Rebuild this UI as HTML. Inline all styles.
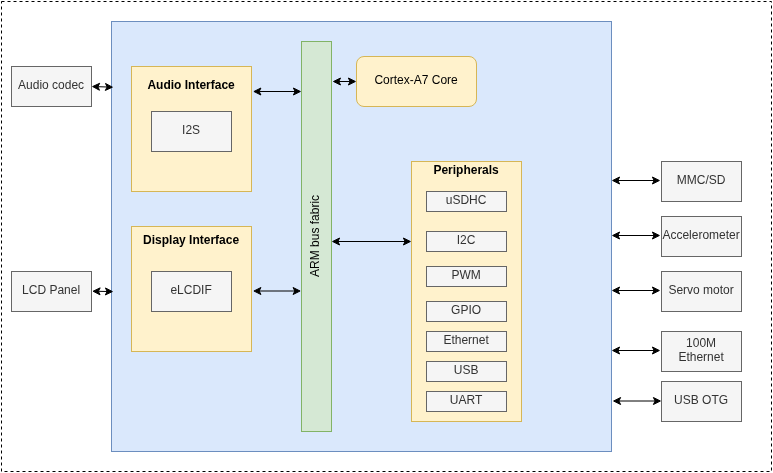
<!DOCTYPE html>
<html><head><meta charset="utf-8"><style>
html,body{margin:0;padding:0;background:#fff;width:773px;height:473px;overflow:hidden}
svg{display:block;will-change:transform;font-family:"Liberation Sans",sans-serif;font-size:12px}
text{text-anchor:middle}
</style></head><body>
<svg width="773" height="473" viewBox="0 0 773 473">
<rect x="1.5" y="1.5" width="770" height="470" fill="none" stroke="#000" stroke-dasharray="3 3"/>
<rect x="111.5" y="21.5" width="500" height="430" rx="0" fill="#dae8fc" stroke="#6c8ebf" />
<rect x="11.5" y="66.5" width="80" height="40" rx="0" fill="#f5f5f5" stroke="#666666" />
<text x="51.1" y="89" fill="#333333" >Audio codec</text>
<rect x="11.5" y="271.5" width="80" height="40" rx="0" fill="#f5f5f5" stroke="#666666" />
<text x="51.1" y="294" fill="#333333" >LCD Panel</text>
<rect x="131.5" y="66.5" width="120" height="125" rx="0" fill="#fff2cc" stroke="#d6b656" />
<text x="191.1" y="89" fill="#000" font-weight="bold" >Audio Interface</text>
<rect x="151.5" y="111.5" width="80" height="40" rx="0" fill="#f5f5f5" stroke="#666666" />
<text x="191.1" y="134" fill="#333333" >I2S</text>
<rect x="131.5" y="226.5" width="120" height="125" rx="0" fill="#fff2cc" stroke="#d6b656" />
<text x="191.1" y="244" fill="#000" font-weight="bold" >Display Interface</text>
<rect x="151.5" y="271.5" width="80" height="40" rx="0" fill="#f5f5f5" stroke="#666666" />
<text x="191.1" y="294" fill="#333333" >eLCDIF</text>
<rect x="301.5" y="41.5" width="30" height="390" rx="0" fill="#d5e8d4" stroke="#82b366" />
<text x="0" y="4" fill="#000" transform="translate(314.6 235.9) rotate(-90)">ARM bus fabric</text>
<rect x="356.5" y="56.5" width="120" height="50" rx="7.5" fill="#fff2cc" stroke="#d6b656" />
<text x="416.1" y="84" fill="#000" >Cortex-A7 Core</text>
<rect x="411.5" y="161.5" width="110" height="260" rx="0" fill="#fff2cc" stroke="#d6b656" />
<text x="466.1" y="174" fill="#000" font-weight="bold" >Peripherals</text>
<rect x="426.5" y="191.5" width="80" height="20" rx="0" fill="#f5f5f5" stroke="#666666" />
<text x="466.1" y="204.0" fill="#333333" >uSDHC</text>
<rect x="426.5" y="231.5" width="80" height="20" rx="0" fill="#f5f5f5" stroke="#666666" />
<text x="466.1" y="244.0" fill="#333333" >I2C</text>
<rect x="426.5" y="266.5" width="80" height="20" rx="0" fill="#f5f5f5" stroke="#666666" />
<text x="466.1" y="279.0" fill="#333333" >PWM</text>
<rect x="426.5" y="301.5" width="80" height="20" rx="0" fill="#f5f5f5" stroke="#666666" />
<text x="466.1" y="314.0" fill="#333333" >GPIO</text>
<rect x="426.5" y="331.5" width="80" height="20" rx="0" fill="#f5f5f5" stroke="#666666" />
<text x="466.1" y="344.0" fill="#333333" >Ethernet</text>
<rect x="426.5" y="361.5" width="80" height="20" rx="0" fill="#f5f5f5" stroke="#666666" />
<text x="466.1" y="374.0" fill="#333333" >USB</text>
<rect x="426.5" y="391.5" width="80" height="20" rx="0" fill="#f5f5f5" stroke="#666666" />
<text x="466.1" y="404.0" fill="#333333" >UART</text>
<rect x="661.5" y="161.5" width="80" height="40" rx="0" fill="#f5f5f5" stroke="#666666" />
<text x="701.1" y="184.0" fill="#333333" >MMC/SD</text>
<rect x="661.5" y="216.5" width="80" height="40" rx="0" fill="#f5f5f5" stroke="#666666" />
<text x="701.1" y="239.0" fill="#333333" >Accelerometer</text>
<rect x="661.5" y="271.5" width="80" height="40" rx="0" fill="#f5f5f5" stroke="#666666" />
<text x="701.1" y="294.0" fill="#333333" >Servo motor</text>
<rect x="661.5" y="381.5" width="80" height="40" rx="0" fill="#f5f5f5" stroke="#666666" />
<text x="701.1" y="404.0" fill="#333333" >USB OTG</text>
<rect x="661.5" y="331.5" width="80" height="40" rx="0" fill="#f5f5f5" stroke="#666666" />
<text x="701.1" y="347" fill="#333333" >100M</text>
<text x="701.1" y="361" fill="#333333" >Ethernet</text>
<path d="M97.865 86.703 L107.135 86.997" stroke="#000" fill="none" stroke-miterlimit="10"/>
<path d="M112.383 87.164 L105.275 90.440 L107.135 86.997 L105.497 83.444 Z" fill="#000" stroke="#000" stroke-miterlimit="10"/>
<path d="M92.617 86.536 L99.725 83.260 L97.865 86.703 L99.503 90.256 Z" fill="#000" stroke="#000" stroke-miterlimit="10"/>
<path d="M98.367 291.318 L107.133 291.482" stroke="#000" fill="none" stroke-miterlimit="10"/>
<path d="M112.382 291.579 L105.318 294.948 L107.133 291.482 L105.449 287.950 Z" fill="#000" stroke="#000" stroke-miterlimit="10"/>
<path d="M93.118 291.221 L100.182 287.852 L98.367 291.318 L100.051 294.850 Z" fill="#000" stroke="#000" stroke-miterlimit="10"/>
<path d="M259.168 91.500 L295.132 91.500" stroke="#000" fill="none" stroke-miterlimit="10"/>
<path d="M300.382 91.500 L293.382 95.000 L295.132 91.500 L293.382 88.000 Z" fill="#000" stroke="#000" stroke-miterlimit="10"/>
<path d="M253.918 91.500 L260.918 88.000 L259.168 91.500 L260.918 95.000 Z" fill="#000" stroke="#000" stroke-miterlimit="10"/>
<path d="M259.168 291.000 L294.832 291.000" stroke="#000" fill="none" stroke-miterlimit="10"/>
<path d="M300.082 291.000 L293.082 294.500 L294.832 291.000 L293.082 287.500 Z" fill="#000" stroke="#000" stroke-miterlimit="10"/>
<path d="M253.918 291.000 L260.918 287.500 L259.168 291.000 L260.918 294.500 Z" fill="#000" stroke="#000" stroke-miterlimit="10"/>
<path d="M338.768 81.500 L350.132 81.500" stroke="#000" fill="none" stroke-miterlimit="10"/>
<path d="M355.382 81.500 L348.382 85.000 L350.132 81.500 L348.382 78.000 Z" fill="#000" stroke="#000" stroke-miterlimit="10"/>
<path d="M333.518 81.500 L340.518 78.000 L338.768 81.500 L340.518 85.000 Z" fill="#000" stroke="#000" stroke-miterlimit="10"/>
<path d="M337.868 241.500 L405.132 241.500" stroke="#000" fill="none" stroke-miterlimit="10"/>
<path d="M410.382 241.500 L403.382 245.000 L405.132 241.500 L403.382 238.000 Z" fill="#000" stroke="#000" stroke-miterlimit="10"/>
<path d="M332.618 241.500 L339.618 238.000 L337.868 241.500 L339.618 245.000 Z" fill="#000" stroke="#000" stroke-miterlimit="10"/>
<path d="M617.868 180.500 L654.132 180.500" stroke="#000" fill="none" stroke-miterlimit="10"/>
<path d="M659.382 180.500 L652.382 184.000 L654.132 180.500 L652.382 177.000 Z" fill="#000" stroke="#000" stroke-miterlimit="10"/>
<path d="M612.618 180.500 L619.618 177.000 L617.868 180.500 L619.618 184.000 Z" fill="#000" stroke="#000" stroke-miterlimit="10"/>
<path d="M617.868 235.500 L654.132 235.500" stroke="#000" fill="none" stroke-miterlimit="10"/>
<path d="M659.382 235.500 L652.382 239.000 L654.132 235.500 L652.382 232.000 Z" fill="#000" stroke="#000" stroke-miterlimit="10"/>
<path d="M612.618 235.500 L619.618 232.000 L617.868 235.500 L619.618 239.000 Z" fill="#000" stroke="#000" stroke-miterlimit="10"/>
<path d="M617.868 290.500 L654.132 290.500" stroke="#000" fill="none" stroke-miterlimit="10"/>
<path d="M659.382 290.500 L652.382 294.000 L654.132 290.500 L652.382 287.000 Z" fill="#000" stroke="#000" stroke-miterlimit="10"/>
<path d="M612.618 290.500 L619.618 287.000 L617.868 290.500 L619.618 294.000 Z" fill="#000" stroke="#000" stroke-miterlimit="10"/>
<path d="M617.868 350.500 L654.132 350.500" stroke="#000" fill="none" stroke-miterlimit="10"/>
<path d="M659.382 350.500 L652.382 354.000 L654.132 350.500 L652.382 347.000 Z" fill="#000" stroke="#000" stroke-miterlimit="10"/>
<path d="M612.618 350.500 L619.618 347.000 L617.868 350.500 L619.618 354.000 Z" fill="#000" stroke="#000" stroke-miterlimit="10"/>
<path d="M618.868 401.000 L655.132 401.000" stroke="#000" fill="none" stroke-miterlimit="10"/>
<path d="M660.382 401.000 L653.382 404.500 L655.132 401.000 L653.382 397.500 Z" fill="#000" stroke="#000" stroke-miterlimit="10"/>
<path d="M613.618 401.000 L620.618 397.500 L618.868 401.000 L620.618 404.500 Z" fill="#000" stroke="#000" stroke-miterlimit="10"/>
</svg>
</body></html>
